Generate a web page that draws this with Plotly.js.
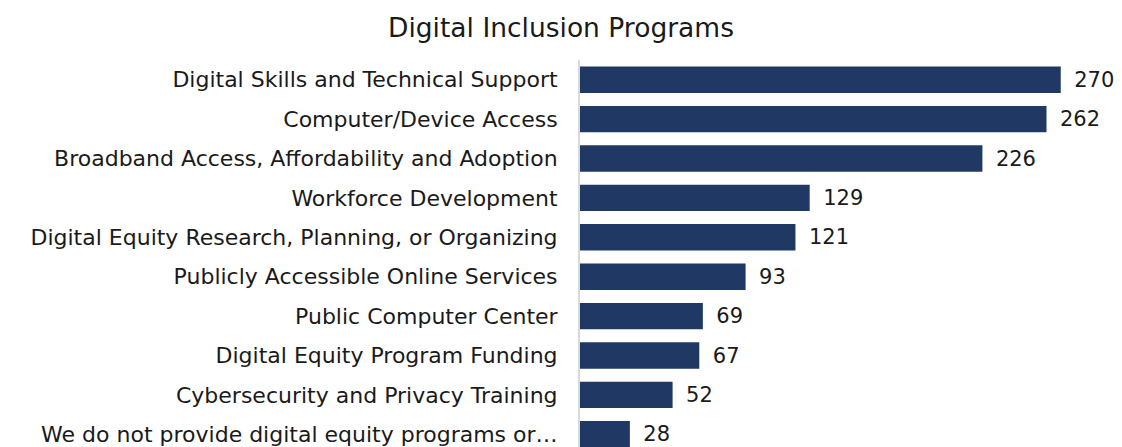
<!DOCTYPE html>
<html><head><meta charset="utf-8">
<script src="https://cdn.plot.ly/plotly-3.0.1.min.js"></script>
<style>html,body{margin:0;padding:0;overflow:hidden;background:#fff}#chart{width:1122px;height:470px}</style>
</head><body><div id="chart"></div>
<script>
const categories = [
  "Digital Skills and Technical Support",
  "Computer/Device Access",
  "Broadband Access, Affordability and Adoption",
  "Workforce Development",
  "Digital Equity Research, Planning, or Organizing",
  "Publicly Accessible Online Services",
  "Public Computer Center",
  "Digital Equity Program Funding",
  "Cybersecurity and Privacy Training",
  "We do not provide digital equity programs or…"
];
const counts = [270, 262, 226, 129, 121, 93, 69, 67, 52, 28];

const FONT = "DejaVu Sans, sans-serif";
Plotly.newPlot("chart", [{
  type: "bar",
  orientation: "h",
  y: categories,
  x: counts,
  marker: {color: "#203864"},
  text: counts.map(v => "\u2002" + v),
  textposition: "outside",
  cliponaxis: false,
  textfont: {family: FONT, size: 21, color: "#1a1a1a"},
  hoverinfo: "skip"
}], {
  width: 1122, height: 470,
  margin: {l: 580, r: 0, t: 60, b: 15.6},
  title: {text: "Digital Inclusion Programs", x: 0.5, xanchor: "center", y: 1 - 28/470, yanchor: "middle", yref: "container",
          font: {family: FONT, size: 26.5, color: "#1a1a1a"}},
  bargap: 0.33,
  xaxis: {range: [0, 304.4], visible: false, showgrid: false, zeroline: false, fixedrange: true},
  yaxis: {autorange: "reversed", showline: true, linecolor: "#d9d9d9", linewidth: 2,
          ticks: "", ticklabelstandoff: 16, showgrid: false, zeroline: false,
          tickfont: {family: FONT, size: 22, color: "#1a1a1a"}},
  showlegend: false,
  plot_bgcolor: "#fff", paper_bgcolor: "#fff"
}, {displayModeBar: false, staticPlot: true});
</script></body></html>
